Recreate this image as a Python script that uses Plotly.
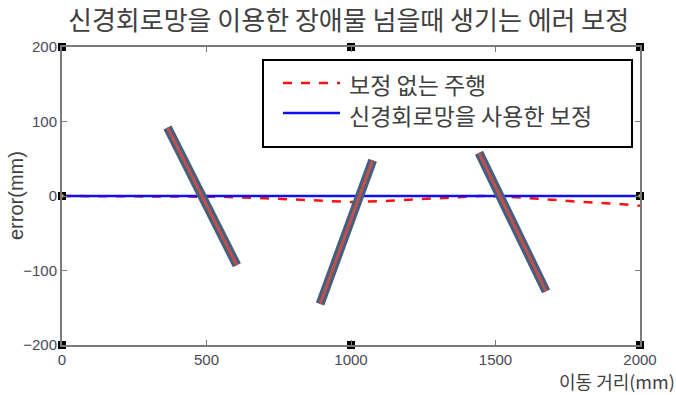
import plotly.graph_objects as go

# data
dist_x = [0, 500, 550, 700, 850, 1000, 1100, 1200, 1350, 1450, 1550, 1650, 1800, 1900, 2000]
err_uncorrected = [0, 0, -1, -3, -6, -8, -7, -5, -2, 0, -1, -4, -8, -10, -13]
corr_x = [0, 2000]
err_corrected = [0, 0]
obstacle_x = [[365, 605], [1075, 893], [1443, 1675]]
obstacle_y = [[92, -93], [48, -145], [58, -128]]
frame_x = [0, 1000, 2000, 0, 1000, 2000]
frame_y = [200, 200, 200, -200, -200, -200]
mid_x = [0, 2000]
mid_y = [0, 0]
x_ticks = [0, 500, 1000, 1500, 2000]
y_ticks = [-200, -100, 0, 100, 200]
legend_names = ["보정 없는 주행", "신경회로망을 사용한 보정"]

KR = "Noto Sans CJK KR"
RED = "#ff1010"
BLUE = "#1010ee"
L, R, T, B = 62, 36, 47, 50
PW, PH = 676 - L - R, 395 - T - B


def px(xp):
    return (xp - L) / PW


def py(yp):
    return (395 - B - yp) / PH


fig = go.Figure()
fig.add_trace(go.Scatter(x=dist_x, y=err_uncorrected, mode="lines", name=legend_names[0],
                         showlegend=False, line=dict(color=RED, width=2.5, dash="dash")))
fig.add_trace(go.Scatter(x=corr_x, y=err_corrected, mode="lines", name=legend_names[1],
                         showlegend=False, line=dict(color=BLUE, width=2.5)))
for ox, oy in zip(obstacle_x, obstacle_y):
    fig.add_trace(go.Scatter(x=ox, y=oy, mode="lines", showlegend=False, hoverinfo="skip",
                             line=dict(color="#44607e", width=9)))
    fig.add_trace(go.Scatter(x=ox, y=oy, mode="lines", showlegend=False, hoverinfo="skip",
                             line=dict(color="#c0504d", width=3)))
fig.add_trace(go.Scatter(x=frame_x, y=frame_y, mode="markers", showlegend=False, cliponaxis=False,
                         marker=dict(symbol="square", color="black", size=8)))
fig.add_trace(go.Scatter(x=mid_x, y=mid_y, mode="markers", showlegend=False, cliponaxis=False,
                         marker=dict(symbol="square", color="black", size=8)))
fig.add_trace(go.Scatter(x=mid_x, y=mid_y, mode="markers", showlegend=False, cliponaxis=False,
                         marker=dict(symbol="square", color="#e8e020", size=3)))

axis_common = dict(showgrid=False, zeroline=False, showline=True, linecolor="#7a7a7a", linewidth=2,
                   mirror="ticks", ticks="inside", ticklen=5, tickcolor="#7a7a7a",
                   tickfont=dict(family="Liberation Sans", size=15, color="#484858"))
fig.update_xaxes(range=[0, 2000], tickvals=x_ticks, **axis_common)
fig.update_yaxes(range=[-200, 200], tickvals=y_ticks, **axis_common)

shapes = [dict(type="rect", xref="paper", yref="paper",
               x0=px(263), x1=px(632), y0=py(147), y1=py(60),
               line=dict(color="black", width=2), fillcolor="white", layer="below"),
          dict(type="line", xref="paper", yref="paper", x0=px(283), x1=px(340), y0=py(83), y1=py(83),
               line=dict(color=RED, width=2.5, dash="dash")),
          dict(type="line", xref="paper", yref="paper", x0=px(283), x1=px(340), y0=py(113), y1=py(113),
               line=dict(color=BLUE, width=2.5))]

annotations = [
    dict(text=legend_names[0], xref="paper", yref="paper", x=px(347), y=py(84),
         xanchor="left", yanchor="middle", showarrow=False,
         font=dict(family=KR, size=23, color="#404040")),
    dict(text=legend_names[1], xref="paper", yref="paper", x=px(347), y=py(115),
         xanchor="left", yanchor="middle", showarrow=False,
         font=dict(family=KR, size=23, color="#404040")),
    dict(text="이동 거리(mm)", xref="paper", yref="paper", x=px(676), y=py(395),
         xanchor="right", yanchor="bottom", showarrow=False, borderpad=0,
         font=dict(family=KR, size=18, color="#404040")),
    dict(text="error(mm)", xref="paper", yref="paper", x=px(3), y=0.5,
         xanchor="left", yanchor="middle", textangle=-90, showarrow=False,
         font=dict(family="Liberation Sans", size=20, color="#404040")),
    dict(text="신경회로망을 이용한 장애물 넘을때 생기는 에러 보정", xref="paper", yref="paper",
         x=px(348), y=py(19), xanchor="center", yanchor="middle", showarrow=False, borderpad=0,
         font=dict(family=KR, size=26, color="#404040")),
]

fig.update_layout(
    width=676, height=395, autosize=False,
    margin=dict(l=L, r=R, t=T, b=B),
    plot_bgcolor="white", paper_bgcolor="white",
    showlegend=False,
    shapes=shapes,
    annotations=annotations,
)
fig.write_html("out.html")
